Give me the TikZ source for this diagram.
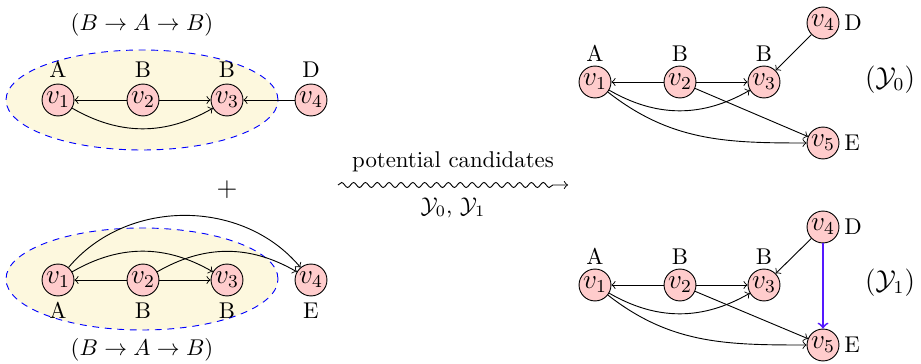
\documentclass[tikz,border=0pt]{standalone}
\usetikzlibrary{decorations.pathmorphing}
\definecolor{nodefill}{RGB}{255,204,204}
\definecolor{groupfill}{RGB}{253,248,222}
\definecolor{newedge}{RGB}{85,25,255}
\begin{document}
\begin{tikzpicture}[x=0.4386pt,y=-0.4386pt,
  vx/.style={circle,draw,fill=nodefill,minimum size=14pt,inner sep=0.3pt,font=\large},
  every label/.style={inner sep=0.5pt},
  label distance=2pt,
  rlab/.style={label distance=1.5pt},
  tlab/.style={label distance=1.2pt},
  edge/.style={->},
  grp/.style={draw=blue,dash pattern=on 3pt off 2.5pt,fill=groupfill},
  wavy/.style={->,decorate,decoration={snake,amplitude=1.1pt,segment length=5.2pt,post length=2mm}}]
\useasboundingbox (0,0) rectangle (921,364);

% top-left group
\draw[grp] (142,100) ellipse [x radius=59.65pt, y radius=21.93pt];
\node (t1) at (142,25) {$(B\rightarrow A\rightarrow B)$};
\node[vx,label={above:A}] (a1) at (58,100) {$v_1$};
\node[vx,label={above:B}] (a2) at (143,100) {$v_2$};
\node[vx,label={above:B}] (a3) at (227,100) {$v_3$};
\node[vx,label={above:D}] (a4) at (311,100) {$v_4$};
\draw[edge] (a2) -- (a1);
\draw[edge] (a2) -- (a3);
\draw[edge] (a4) -- (a3);
\draw[edge] (a1) to[bend right=30] (a3);

% plus
\node (plus) at (227,190) {\large $+$};

% bottom-left group
\draw[grp] (142,279) ellipse [x radius=59.65pt, y radius=22.37pt];
\node (t2) at (142,350) {$(B\rightarrow A\rightarrow B)$};
\node[vx,label={below:A}] (b1) at (58,280) {$v_1$};
\node[vx,label={below:B}] (b2) at (143,280) {$v_2$};
\node[vx,label={below:B}] (b3) at (227,280) {$v_3$};
\node[vx,label={below:E}] (b4) at (311,280) {$v_4$};
\draw[edge] (b2) -- (b1);
\draw[edge] (b2) -- (b3);
\draw[edge] (b1) to[bend left=30] (b3);
\draw[edge] (b2) to[bend left=30] (b4);
\draw[edge] (b1) to[bend left=50] (b4);

% wavy arrow
\coordinate (w1) at (338,185);
\coordinate (w2) at (568,185);
\draw[wavy] (w1) -- (w2)
  node[midway,above=2pt] (wl1) {potential candidates}
  node[midway,below=2pt] (wl2) {$\mathcal{Y}_0$, $\mathcal{Y}_1$};

% right-top graph
\node[vx,label={[tlab]above:A}] (c1) at (595,82) {$v_1$};
\node[vx,label={[tlab]above:B}] (c2) at (680,82) {$v_2$};
\node[vx,label={[tlab]above:B}] (c3) at (764,82) {$v_3$};
\node[vx,label={[rlab]right:D}] (c4) at (823,23) {$v_4$};
\node[vx,label={[rlab]right:E}] (c5) at (823,143) {$v_5$};
\node (y0) at (890,80) {\large $(\mathcal{Y}_0)$};
\draw[edge] (c2) -- (c1);
\draw[edge] (c2) -- (c3);
\draw[edge] (c4) -- (c3);
\draw[edge] (c1) to[bend right=30] (c3);
\draw[edge] (c1) to[out=-38,in=180] (c5);
\draw[edge] (c2) -- (c5);

% right-bottom graph
\node[vx,label={[tlab]above:A}] (d1) at (595,285) {$v_1$};
\node[vx,label={[tlab]above:B}] (d2) at (680,285) {$v_2$};
\node[vx,label={[tlab]above:B}] (d3) at (764,285) {$v_3$};
\node[vx,label={[rlab]right:D}] (d4) at (823,227) {$v_4$};
\node[vx,label={[rlab]right:E}] (d5) at (823,345) {$v_5$};
\node (y1) at (890,283) {\large $(\mathcal{Y}_1)$};
\draw[edge] (d2) -- (d1);
\draw[edge] (d2) -- (d3);
\draw[edge] (d4) -- (d3);
\draw[edge] (d1) to[bend right=30] (d3);
\draw[edge] (d1) to[out=-38,in=180] (d5);
\draw[edge] (d2) -- (d5);
\draw[edge,newedge,thick] (d4) -- (d5);
\end{tikzpicture}
\end{document}
